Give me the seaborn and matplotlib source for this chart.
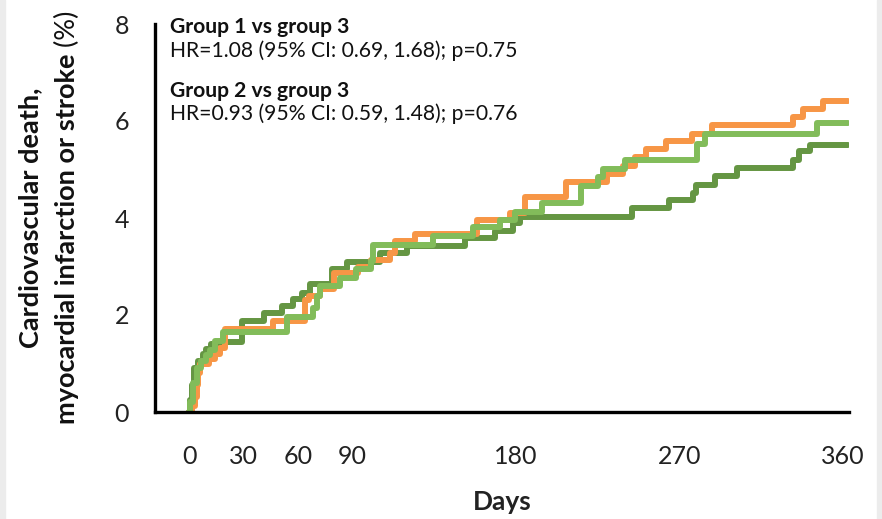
import numpy as np
import pandas as pd
import seaborn as sns
from matplotlib import pyplot as plt
from matplotlib.patches import Rectangle

# cumulative incidence (%), step starts in days
g1_days = [0, 1.5, 3, 4, 5, 6, 11, 14, 17, 19.5, 46, 64, 66, 72, 80, 93, 100, 110.6, 113.4,
           124.4, 158.4, 176.8, 185, 207.5, 230, 239, 245.7, 251.8, 263, 277, 288, 333, 338, 349, 363]
g1_pct = [0, 0.12, 0.3, 0.55, 0.8, 1.0, 1.1, 1.2, 1.32, 1.72, 1.88, 2.3, 2.4, 2.54, 2.87, 3.0, 3.13, 3.28, 3.52,
          3.66, 3.96, 4.1, 4.44, 4.75, 4.9, 5.08, 5.26, 5.43, 5.59, 5.74, 5.91, 6.08, 6.25, 6.42, 6.42]

g2_days = [0, 0.5, 2, 4, 6.6, 9.4, 11.2, 14, 18.6, 53.7, 68.4, 70.2, 72, 83, 92, 100, 101.5, 134.5,
           156.6, 171.3, 179.5, 194.3, 215.7, 225.4, 228, 240, 280, 284, 345.8, 363]
g2_pct = [0, 0.2, 0.6, 0.9, 1.06, 1.17, 1.27, 1.47, 1.64, 1.95, 2.15, 2.4, 2.6, 2.77, 2.94, 3.11, 3.44, 3.62,
          3.81, 3.96, 4.13, 4.3, 4.66, 4.84, 5.02, 5.19, 5.53, 5.74, 5.96, 5.96]

g3_days = [0, 0.5, 1.5, 2.5, 5, 7.5, 9, 12, 16, 29, 41, 51, 57, 62, 66.5, 78.6, 87, 105, 119.8, 152,
           168.5, 178.6, 182.3, 244, 264.5, 277.8, 279, 290, 301.8, 332.8, 336, 342, 363]
g3_pct = [0, 0.25, 0.55, 0.9, 1.06, 1.2, 1.3, 1.4, 1.45, 1.88, 2.05, 2.19, 2.33, 2.46, 2.63, 2.94, 3.1, 3.28, 3.42, 3.59,
          3.73, 3.9, 4.03, 4.2, 4.37, 4.52, 4.68, 4.87, 5.04, 5.2, 5.38, 5.51, 5.51]

x_ticks = [0, 30, 60, 90, 180, 270, 360]
y_ticks = [0, 2, 4, 6, 8]

comparisons = [("Group 1 vs group 3", "HR=1.08 (95% CI: 0.69, 1.68); p=0.75"),
               ("Group 2 vs group 3", "HR=0.93 (95% CI: 0.59, 1.48); p=0.76")]

colors = {"Group 3": "#659643", "Group 1": "#F79646", "Group 2": "#82BC5A"}

df = pd.concat([
    pd.DataFrame({"day": g3_days, "pct": g3_pct, "group": "Group 3"}),
    pd.DataFrame({"day": g1_days, "pct": g1_pct, "group": "Group 1"}),
    pd.DataFrame({"day": g2_days, "pct": g2_pct, "group": "Group 2"}),
], ignore_index=True)

sns.set_style("white")
plt.rcParams['font.family'] = ['Lato', 'DejaVu Sans']

W, H = 882, 519
fig = plt.figure(figsize=(W / 100, H / 100), dpi=100)
ax = fig.add_axes([155 / W, 1 - 412 / H, (849 - 155) / W, (412 - 24) / H])

sns.lineplot(data=df, x="day", y="pct", hue="group", hue_order=["Group 3", "Group 1", "Group 2"],
             palette=colors, drawstyle="steps-post", linewidth=4.3, sort=False,
             estimator=None, legend=False, ax=ax)

ax.set_xlim(-18.9, 363.6)
ax.set_ylim(0, 8)
ax.set_xticks(x_ticks)
ax.set_yticks(y_ticks)
ax.tick_params(axis='both', direction='out', length=10.8, width=2.4, color='black',
               labelsize=18, labelcolor='#222222')
ax.tick_params(axis='x', pad=13)
ax.tick_params(axis='y', pad=8)
for side in ['top', 'right']:
    ax.spines[side].set_visible(False)
for side in ['left', 'bottom']:
    ax.spines[side].set_linewidth(2.4)
    ax.spines[side].set_color('black')

ax.set_xlabel("Days", fontsize=19, fontweight='bold', color='#222222')
ax.xaxis.set_label_coords(0.5, -0.2)
ax.set_ylabel("")

# comparison annotations
base_y = [33.3, 96.7]
for (head, stats), y in zip(comparisons, base_y):
    fig.text(170 / W, 1 - y / H, head, fontsize=15.2, fontweight='bold', va='baseline', color='#111111')
    fig.text(170 / W, 1 - (y + 23.5) / H, stats, fontsize=15.2, va='baseline', color='#111111')

# y label: two rotated lines, "(%)" in regular weight
fig.canvas.draw()
renderer = fig.canvas.get_renderer()
center_y = 217.5
l1 = fig.text(38 / W, 0, "Cardiovascular death,", rotation=90, rotation_mode='anchor',
              ha='left', va='baseline', fontsize=19.5, fontweight='bold', color='#111111')
l2a = fig.text(75 / W, 0, "myocardial infarction or stroke", rotation=90, rotation_mode='anchor',
               ha='left', va='baseline', fontsize=19.5, fontweight='bold', color='#111111')
l2b = fig.text(75 / W, 0, " (%)", rotation=90, rotation_mode='anchor',
               ha='left', va='baseline', fontsize=19.5, color='#111111')
h1 = l1.get_window_extent(renderer).height
h2a = l2a.get_window_extent(renderer).height
h2b = l2b.get_window_extent(renderer).height
l1.set_y(1 - (center_y + h1 / 2) / H)
start2 = center_y + (h2a + h2b) / 2
l2a.set_y(1 - start2 / H)
l2b.set_y(1 - (start2 - h2a) / H)

# light grey frame edges seen in the reference
fig.patches.append(Rectangle((0, 0), 5 / W, 1, transform=fig.transFigure, color='#ECECEC', zorder=-1))
fig.patches.append(Rectangle((1 - 5 / W, 0), 5 / W, 1, transform=fig.transFigure, color='#ECECEC', zorder=-1))

fig.savefig("out.png", dpi=100)
